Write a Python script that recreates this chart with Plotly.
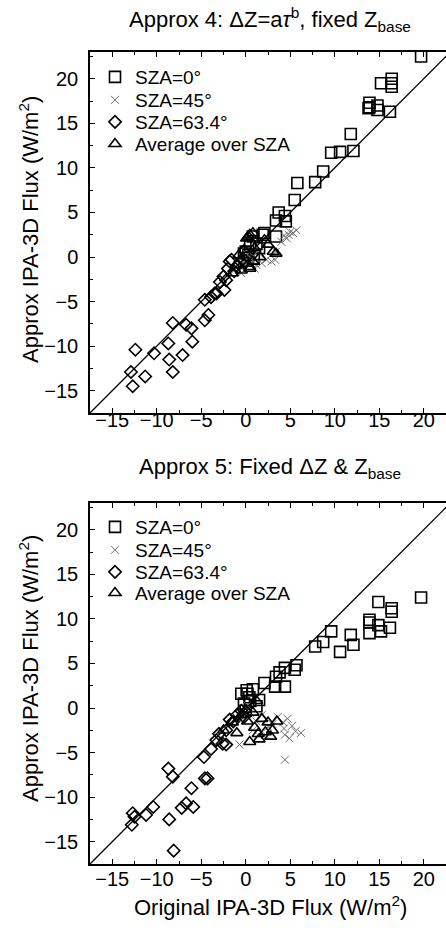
import plotly.graph_objects as go

# ---------------- data: Approx 4 (top panel) ----------------
a4_sza0_x = [19.7, 16.4, 16.4, 16.4, 15.2, 13.9, 13.9, 13.8, 14.8, 14.8, 16.2, 11.8, 9.6, 10.6, 12.1,
             8.7, 7.8, 5.8, 5.5, 3.7, 4.4, 4.5, 3.4, 3.4, 1.9, 0.8, 2.1, 0.5, 1.2, 0.0, 0.3, -0.2, 1.5, 0.9, 0.2]
a4_sza0_y = [22.5, 20.0, 19.5, 19.1, 19.5, 17.3, 16.8, 16.7, 17.0, 16.5, 16.3, 13.8, 11.7, 11.8, 11.9,
             9.6, 8.4, 8.3, 6.4, 5.0, 4.6, 4.0, 4.1, 2.3, 2.5, 2.3, 2.7, 1.2, 1.5, 0.6, 0.2, 0.4, 1.0, -0.2, -0.4]

a4_sza45_x = [5.7, 5.3, 4.6, 4.0, 3.4, 3.3, 2.9, 2.3, 1.8, 1.2, 4.3, 5.0, 4.8, 0.5, 0.8, 1.0, -0.3, 0.2,
              -0.8, -1.2, 0.6, 1.5, -0.5]
a4_sza45_y = [3.0, 2.7, 2.1, 1.7, 0.6, -0.3, -0.5, -0.3, -0.7, -0.9, 2.4, 2.8, 2.5, -0.8, 0.1, -1.3, -0.6, 0.3,
              -1.0, -1.4, -0.2, 0.4, -1.8]

a4_sza63_x = [-1.8, -2.2, -3.3, -3.9, -2.4, -4.6, -4.2, -4.6, -6.7, -6.1, -8.2, -6.0, -8.7, -7.1, -8.6,
              -10.3, -12.4, -8.2, -11.3, -12.9, -12.7, -1.6, -2.0, -2.5, -2.9, -3.5, -1.0, -0.6, -1.3, -0.3]
a4_sza63_y = [-0.5, -2.6, -4.1, -4.5, -3.7, -4.8, -6.5, -7.1, -7.6, -8.0, -7.4, -9.5, -9.7, -11.0, -11.5,
              -10.8, -10.4, -12.9, -13.4, -12.9, -14.5, -0.3, -1.3, -2.2, -2.8, -4.1, -1.0, -0.5, -1.6, -0.2]

a4_avg_x = [0.3, 0.8, 0.45, 0.1, 2.1, 3.4, 3.1, 1.6, 0.45, -0.5, -1.0, 0.45, -0.2, 1.0, -1.5, 2.5, 0.8, -0.8]
a4_avg_y = [2.3, 2.7, 2.5, 2.1, 1.9, 0.4, 0.6, 0.0, -1.3, -1.5, -0.9, -1.1, 0.8, 1.0, -1.8, 1.4, -0.5, 0.2]

# ---------------- data: Approx 5 (bottom panel) ----------------
a5_sza0_x = [19.7, 14.9, 16.4, 16.4, 13.9, 13.9, 14.9, 15.2, 16.2, 13.9, 11.8, 12.1, 9.6, 8.7, 7.8, 10.6,
             5.7, 5.5, 4.4, 3.8, 3.4, 2.1, 4.4, 3.3, 0.8, 0.2, 0.5, -0.2, 1.2, 0.0, 0.4, 1.5, -0.5, 0.1]
a5_sza0_y = [12.4, 11.9, 11.2, 10.8, 9.9, 9.6, 9.3, 8.6, 9.0, 8.4, 8.2, 7.1, 8.6, 7.4, 6.9, 6.3,
             4.8, 4.3, 4.5, 4.0, 3.5, 2.8, 2.4, 2.4, 2.1, 1.6, 0.8, 0.5, 0.2, -0.3, 1.2, 0.9, 1.6, 2.0]

a5_sza45_x = [4.2, 4.7, 5.2, 5.6, 6.2, 4.9, 4.4, 4.4, 4.3, 3.6, -0.7, 0.5, 1.2, 2.5, 3.0, 0.2, -0.4, 1.8, 0.8, 2.2]
a5_sza45_y = [-1.6, -1.2, -2.0, -2.6, -2.8, -3.4, -3.0, -5.8, -2.3, -1.0, -4.1, -0.6, -1.5, -2.1, -1.8, 0.3,
              -1.2, -0.8, -2.5, -3.0]

a5_sza63_x = [-8.7, -8.2, -4.7, -3.9, -3.3, -2.2, -1.8, -2.2, -2.6, -4.6, -4.3, -6.1, -6.7, -5.9, -7.2,
              -8.6, -10.4, -11.2, -12.7, -12.8, -12.5, -8.1, -1.0, -0.5, -1.4, -3.0, -0.2]
a5_sza63_y = [-6.8, -7.7, -5.5, -4.6, -3.6, -2.5, -1.3, -4.1, -4.0, -7.9, -7.9, -9.0, -10.7, -11.1, -11.2,
              -12.5, -11.1, -12.0, -11.8, -13.1, -12.2, -16.0, -0.8, -0.3, -1.5, -2.9, -1.0]

a5_avg_x = [0.45, 1.5, 2.2, 3.0, 1.0, 2.5, 3.5, 1.8, 0.2, -0.5, -1.5, -2.5, 0.8, 1.2, -1.0, 0.0, 2.8, 1.4]
a5_avg_y = [-3.8, -3.5, -2.7, -2.5, -2.2, -1.6, -1.5, -1.2, -1.5, -0.8, -1.6, -2.5, -0.5, 0.8, -2.8, -0.2, -3.2, -2.9]

one_to_one = [-20, 25]

series_names = ["SZA=0°", "SZA=45°", "SZA=63.4°", "Average over SZA"]
tick_vals = [-15, -10, -5, 0, 5, 10, 15, 20]

FONT = "Liberation Sans, Arial, sans-serif"
W, H = 446, 930

styles = [
    dict(symbol="square-open", size=11, color="black", line=dict(width=1.6, color="black")),
    dict(symbol="x-thin-open", size=8, color="#707070", line=dict(width=1, color="#707070")),
    dict(symbol="diamond-open", size=9.5, color="black", line=dict(width=1.6, color="black")),
    dict(symbol="triangle-up-open", size=10.5, color="black", line=dict(width=1.6, color="black")),
]

def px_x(p):
    return p / W

def px_y(p):
    return 1 - p / H

fig = go.Figure()

# legend row centres (pixels from top) for each panel
panels = [
    ("x", "y", [77, 100, 122, 144], ["legend", "legend2", "legend3", "legend4"],
     [(a4_sza0_x, a4_sza0_y), (a4_sza45_x, a4_sza45_y), (a4_sza63_x, a4_sza63_y), (a4_avg_x, a4_avg_y)]),
    ("x2", "y2", [527, 550, 572, 593], ["legend5", "legend6", "legend7", "legend8"],
     [(a5_sza0_x, a5_sza0_y), (a5_sza45_x, a5_sza45_y), (a5_sza63_x, a5_sza63_y), (a5_avg_x, a5_avg_y)]),
]

legend_layouts = {}
for xa, ya, rows, lgs, data in panels:
    fig.add_trace(go.Scatter(x=one_to_one, y=one_to_one, mode="lines",
                             line=dict(color="black", width=1.3), xaxis=xa, yaxis=ya,
                             showlegend=False, hoverinfo="skip"))
    for name, (xs, ys), st, lg, row in zip(series_names, data, styles, lgs, rows):
        fig.add_trace(go.Scatter(x=xs, y=ys, mode="markers", name=name, xaxis=xa, yaxis=ya,
                                 marker=st, legend=lg, cliponaxis=True))
        legend_layouts[lg] = dict(x=px_x(95), y=px_y(row), xanchor="left", yanchor="middle",
                                  font=dict(family=FONT, size=19), bgcolor="rgba(0,0,0,0)",
                                  borderwidth=0, tracegroupgap=0)

axis_common = dict(
    showgrid=False, zeroline=False, showline=True, linecolor="black", linewidth=1.5,
    ticks="inside", ticklen=5, tickwidth=1.2, tickcolor="black",
    tickvals=tick_vals, tickfont=dict(family=FONT, size=20, color="black"),
    minor=dict(ticks="inside", ticklen=3, tickwidth=1, tickcolor="black", dtick=2.5, tick0=0),
)

xdom = [px_x(90), 1.0]
fig.update_layout(
    width=W, height=H, margin=dict(l=0, r=0, t=0, b=0),
    plot_bgcolor="white", paper_bgcolor="white",
    font=dict(family=FONT, size=18, color="black"),
    xaxis=dict(domain=xdom, range=[-17.5, 22.5], anchor="y", mirror="ticks",
               ticklabelstandoff=-12, **axis_common),
    yaxis=dict(domain=[px_y(413), px_y(52)], range=[-17.5, 23], anchor="x", mirror=False,
               ticklabelstandoff=6, **axis_common),
    xaxis2=dict(domain=xdom, range=[-17.5, 22.5], anchor="y2", mirror="ticks",
                ticklabelstandoff=-4, **axis_common),
    yaxis2=dict(domain=[px_y(864), px_y(503)], range=[-17.5, 23], anchor="x2", mirror=False,
                ticklabelstandoff=6, **axis_common),
    showlegend=True,
    **legend_layouts,
)

ann = dict(showarrow=False, xref="paper", yref="paper")
tfont = dict(family=FONT, size=22, color="black")
fig.add_annotation(text="Approx 4: ΔZ=a<i>τ</i><sup>b</sup>, fixed Z<sub>base</sub>",
                   x=px_x(270), y=px_y(20), xanchor="center", yanchor="middle", font=tfont, **ann)
fig.add_annotation(text="Approx 5: Fixed ΔZ &amp; Z<sub>base</sub>",
                   x=px_x(270), y=px_y(468), xanchor="center", yanchor="middle", font=tfont, **ann)
fig.add_annotation(text="Original IPA-3D Flux (W/m<sup>2</sup>)",
                   x=px_x(270), y=px_y(906), xanchor="center", yanchor="middle", font=tfont, **ann)
fig.add_annotation(text="Approx IPA-3D Flux (W/m<sup>2</sup>)", textangle=-90,
                   x=px_x(29), y=px_y(230), xanchor="center", yanchor="middle", font=tfont, **ann)
fig.add_annotation(text="Approx IPA-3D Flux (W/m<sup>2</sup>)", textangle=-90,
                   x=px_x(29), y=px_y(669), xanchor="center", yanchor="middle", font=tfont, **ann)

fig.write_html("out.html", config={"displayModeBar": False},
               post_script="document.body.style.margin='0';document.body.style.overflow='hidden';")
